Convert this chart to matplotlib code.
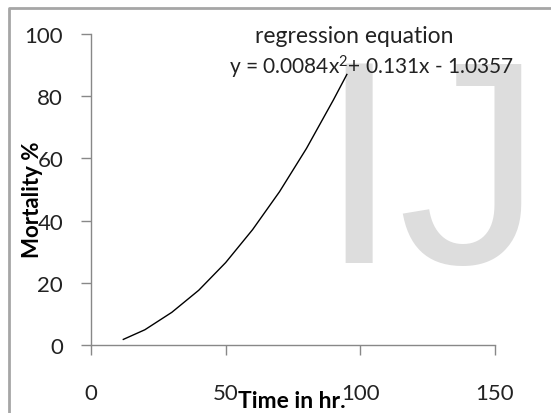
import matplotlib
matplotlib.use("Agg")
import matplotlib.pyplot as plt

# points
time_hr = [12, 20, 30, 40, 50, 60, 70, 80, 90, 95]
mortality = [1.8, 4.9, 10.5, 17.6, 26.5, 37.1, 49.3, 63.2, 78.8, 87.0]

x_ticks = [0, 50, 100, 150]
y_ticks = [0, 20, 40, 60, 80, 100]

title_txt = "regression equation"
eq_txt = "y = 0.0084x$^{2}$+ 0.131x - 1.0357"

plt.rcParams['font.family'] = ['Lato', 'DejaVu Sans']
plt.rcParams['mathtext.fontset'] = 'custom'
plt.rcParams['mathtext.rm'] = 'Lato'
plt.rcParams['mathtext.it'] = 'Lato'
plt.rcParams['mathtext.default'] = 'regular'

fig = plt.figure(figsize=(5.51, 4.14), dpi=100)
ax = fig.add_axes([91/551, 1 - 346/414, 404/551, 311/414])
ax.set_facecolor('none')

# watermark
fig.text(318/551, 1 - 263/414, "IJ", fontsize=208, family='Liberation Sans',
         color='#dddddd', ha='left', va='baseline', zorder=-1)

# frame around the picture (top and left only)
fig.add_artist(plt.Line2D([9/551, 9/551, 1.0], [0.0, 1 - 9/414, 1 - 9/414],
                          transform=fig.transFigure, color='#a6a6a6', lw=2))

ax.plot(time_hr, mortality, color='black', lw=1)

ax.set_xlim(0, 150)
ax.set_ylim(0, 100)
ax.set_xticks(x_ticks)
ax.set_yticks(y_ticks)
for s in ['top', 'right']:
    ax.spines[s].set_visible(False)
for s in ['left', 'bottom']:
    ax.spines[s].set_color('#888888')
    ax.spines[s].set_linewidth(1)
ax.tick_params(axis='both', colors='#888888', length=7, width=1,
               labelsize=16, labelcolor='#222222')
ax.tick_params(axis='x', pad=20)
ax.tick_params(axis='y', pad=13)

ax.set_xlabel("Time in hr.", fontsize=16.5, fontweight='bold', color='black')
ax.xaxis.set_label_coords(0.4975, -0.18)
ax.xaxis.label.set_va('center')
ax.set_ylabel("Mortality %", fontsize=16, fontweight='bold', color='black')
ax.yaxis.set_label_coords(-0.144, 0.47)
ax.yaxis.label.set_va('center')

ax.text(97.7, 99.4, title_txt, fontsize=16.5, ha='center', va='center', color='#222222')
ax.text(104.3, 89.7, eq_txt, fontsize=15, ha='center', va='center', color='#222222')

fig.savefig("out.png", dpi=100)
